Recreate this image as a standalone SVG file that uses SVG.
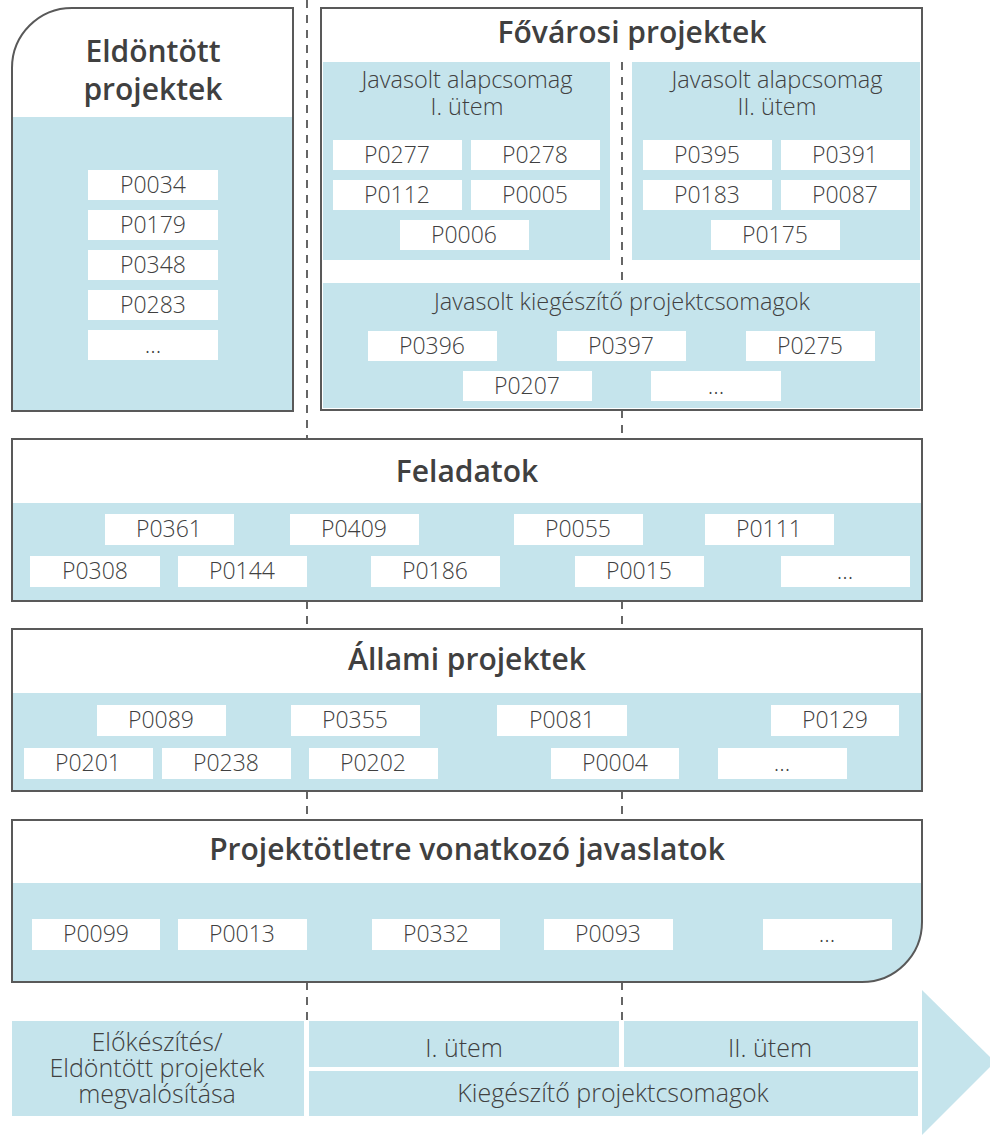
<svg xmlns="http://www.w3.org/2000/svg" width="990" height="1135" viewBox="0 0 990 1135">
<style>
.frame{fill:none;stroke:#595959;stroke-width:2}
.blue{fill:#c5e4ec}
.item{fill:#ffffff}
.t{font-family:"Open Sans","Liberation Sans",sans-serif;font-size:23px;font-weight:300;fill:#404040;text-anchor:middle}
.st{font-family:"Open Sans","Liberation Sans",sans-serif;font-size:23.5px;font-weight:300;fill:#404040;text-anchor:middle}
.b{font-family:"Open Sans","Liberation Sans",sans-serif;font-size:25px;font-weight:300;fill:#404040;text-anchor:middle}
.h{font-family:"Open Sans","Liberation Sans",sans-serif;font-size:30px;font-weight:600;fill:#404040;text-anchor:middle}
.dash{stroke:#404040;stroke-width:1.6;stroke-dasharray:8 7;fill:none}
</style>
<rect width="990" height="1135" fill="#ffffff"/>
<g id="connectors">
<path class="dash" d="M307,0 V439 M307,601 V629 M307,791 V820 M307,982 V1021"/>
<path class="dash" d="M622,62 V283 M622,410 V439 M622,601 V629 M622,791 V820 M622,982 V1021"/>
</g>
<g id="eldontott">
<path d="M12,68 A60,60 0 0 1 72,8 H293 V411 H12 Z" fill="#ffffff"/>
<rect class="blue" x="12" y="117" width="281" height="294"/>
<path class="frame" d="M12,68 A60,60 0 0 1 72,8 H293 V411 H12 Z"/>
<text class="h" x="153" y="62">Eldöntött</text>
<text class="h" x="153" y="100">projektek</text>
<rect class="item" x="88" y="170" width="130" height="30"/><text class="t" x="153" y="193">P0034</text>
<rect class="item" x="88" y="210" width="130" height="30"/><text class="t" x="153" y="233">P0179</text>
<rect class="item" x="88" y="250" width="130" height="30"/><text class="t" x="153" y="273">P0348</text>
<rect class="item" x="88" y="290" width="130" height="30"/><text class="t" x="153" y="313">P0283</text>
<rect class="item" x="88" y="330" width="130" height="30"/><text class="t" x="153" y="353">...</text>
</g>
<g id="fovarosi">
<rect x="321" y="8" width="601" height="402" fill="#ffffff"/>
<rect class="blue" x="323" y="62" width="287" height="198"/>
<rect class="blue" x="632" y="62" width="288" height="198"/>
<rect class="blue" x="323" y="283" width="597" height="125"/>
<path class="dash" d="M622,62 V283"/>
<rect class="frame" x="321" y="8" width="601" height="402"/>
<text class="h" x="632" y="43">Fővárosi projektek</text>
<text class="st" x="467" y="88">Javasolt alapcsomag</text>
<text class="st" x="467" y="115">I. ütem</text>
<rect class="item" x="333" y="140" width="129" height="30"/><text class="t" x="397" y="163">P0277</text>
<rect class="item" x="471" y="140" width="129" height="30"/><text class="t" x="535" y="163">P0278</text>
<rect class="item" x="333" y="180" width="129" height="30"/><text class="t" x="397" y="203">P0112</text>
<rect class="item" x="471" y="180" width="129" height="30"/><text class="t" x="535" y="203">P0005</text>
<rect class="item" x="400" y="220" width="129" height="30"/><text class="t" x="464" y="243">P0006</text>
<text class="st" x="777" y="88">Javasolt alapcsomag</text>
<text class="st" x="777" y="115">II. ütem</text>
<rect class="item" x="643" y="140" width="129" height="30"/><text class="t" x="707" y="163">P0395</text>
<rect class="item" x="781" y="140" width="129" height="30"/><text class="t" x="845" y="163">P0391</text>
<rect class="item" x="643" y="180" width="129" height="30"/><text class="t" x="707" y="203">P0183</text>
<rect class="item" x="781" y="180" width="129" height="30"/><text class="t" x="845" y="203">P0087</text>
<rect class="item" x="711" y="220" width="129" height="30"/><text class="t" x="775" y="243">P0175</text>
<text class="st" x="622" y="310">Javasolt kiegészítő projektcsomagok</text>
<rect class="item" x="368" y="331" width="129" height="30"/><text class="t" x="432" y="354">P0396</text>
<rect class="item" x="557" y="331" width="129" height="30"/><text class="t" x="621" y="354">P0397</text>
<rect class="item" x="746" y="331" width="129" height="30"/><text class="t" x="810" y="354">P0275</text>
<rect class="item" x="463" y="371" width="129" height="30"/><text class="t" x="527" y="394">P0207</text>
<rect class="item" x="651" y="371" width="130" height="30"/><text class="t" x="716" y="394">...</text>
</g>
<g id="feladatok">
<rect x="12" y="439" width="910" height="162" fill="#ffffff"/>
<rect class="blue" x="12" y="503" width="910" height="98"/>
<rect class="frame" x="12" y="439" width="910" height="162"/>
<text class="h" x="467" y="482">Feladatok</text>
<rect class="item" x="105" y="514" width="129" height="31"/><text class="t" x="169" y="537">P0361</text>
<rect class="item" x="290" y="514" width="129" height="31"/><text class="t" x="354" y="537">P0409</text>
<rect class="item" x="514" y="514" width="129" height="31"/><text class="t" x="578" y="537">P0055</text>
<rect class="item" x="705" y="514" width="129" height="31"/><text class="t" x="769" y="537">P0111</text>
<rect class="item" x="30" y="556" width="130" height="31"/><text class="t" x="95" y="579">P0308</text>
<rect class="item" x="178" y="556" width="129" height="31"/><text class="t" x="242" y="579">P0144</text>
<rect class="item" x="371" y="556" width="129" height="31"/><text class="t" x="435" y="579">P0186</text>
<rect class="item" x="575" y="556" width="129" height="31"/><text class="t" x="639" y="579">P0015</text>
<rect class="item" x="781" y="556" width="129" height="31"/><text class="t" x="845" y="579">...</text>
</g>
<g id="allami">
<rect x="12" y="629" width="910" height="162" fill="#ffffff"/>
<rect class="blue" x="12" y="693" width="910" height="98"/>
<rect class="frame" x="12" y="629" width="910" height="162"/>
<text class="h" x="467" y="670">Állami projektek</text>
<rect class="item" x="97" y="705" width="129" height="31"/><text class="t" x="161" y="728">P0089</text>
<rect class="item" x="291" y="705" width="129" height="31"/><text class="t" x="355" y="728">P0355</text>
<rect class="item" x="497" y="705" width="130" height="31"/><text class="t" x="562" y="728">P0081</text>
<rect class="item" x="771" y="705" width="128" height="31"/><text class="t" x="835" y="728">P0129</text>
<rect class="item" x="24" y="748" width="129" height="31"/><text class="t" x="88" y="771">P0201</text>
<rect class="item" x="162" y="748" width="129" height="31"/><text class="t" x="226" y="771">P0238</text>
<rect class="item" x="309" y="748" width="129" height="31"/><text class="t" x="373" y="771">P0202</text>
<rect class="item" x="551" y="748" width="128" height="31"/><text class="t" x="615" y="771">P0004</text>
<rect class="item" x="718" y="748" width="129" height="31"/><text class="t" x="782" y="771">...</text>
</g>
<g id="projektotletre">
<path d="M12,820 H922 V922 A60,60 0 0 1 862,982 H12 Z" fill="#ffffff"/>
<path class="blue" d="M12,883 H922 V922 A60,60 0 0 1 862,982 H12 Z"/>
<path class="frame" d="M12,820 H922 V922 A60,60 0 0 1 862,982 H12 Z"/>
<text class="h" x="467" y="860">Projektötletre vonatkozó javaslatok</text>
<rect class="item" x="32" y="919" width="128" height="31"/><text class="t" x="96" y="942">P0099</text>
<rect class="item" x="178" y="919" width="129" height="31"/><text class="t" x="242" y="942">P0013</text>
<rect class="item" x="372" y="919" width="128" height="31"/><text class="t" x="436" y="942">P0332</text>
<rect class="item" x="544" y="919" width="129" height="31"/><text class="t" x="608" y="942">P0093</text>
<rect class="item" x="763" y="919" width="129" height="31"/><text class="t" x="827" y="942">...</text>
</g>
<g id="timeline">
<polygon class="blue" points="922,990 995,1062 922,1135"/>
<rect class="blue" x="12" y="1021" width="292" height="95"/>
<rect class="blue" x="309" y="1021" width="310" height="46"/>
<rect class="blue" x="624" y="1021" width="294" height="46"/>
<rect class="blue" x="309" y="1071" width="609" height="45"/>
<text class="b" x="157" y="1051">Előkészítés/</text>
<text class="b" x="157" y="1077">Eldöntött projektek</text>
<text class="b" x="157" y="1103">megvalósítása</text>
<text class="b" x="464" y="1057">I. ütem</text>
<text class="b" x="770" y="1057">II. ütem</text>
<text class="b" x="613" y="1102">Kiegészítő projektcsomagok</text>
</g>
</svg>
